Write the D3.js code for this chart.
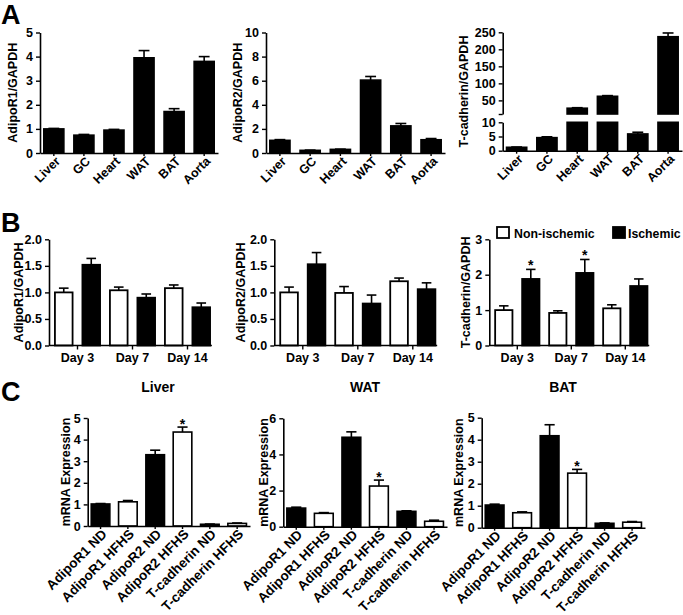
<!DOCTYPE html>
<html><head><meta charset="utf-8">
<script src="https://cdn.jsdelivr.net/npm/d3@7"></script>
<style>
body{margin:0;background:#fff;}
svg{display:block;font-family:"Liberation Sans",Arial,sans-serif;font-weight:bold;}
</style></head><body>
<svg id="c" width="683" height="615"></svg>
<script>
// ---------- Panel A: tissue distribution ----------
const tissues = ["Liver","GC","Heart","WAT","BAT","Aorta"];
const adipoR1Tissue    = [1.0, 0.74, 0.95, 3.95, 1.72, 3.8];
const adipoR1TissueErr = [0.02, 0.03, 0.03, 0.3, 0.12, 0.2];
const adipoR2Tissue    = [1.05, 0.22, 0.3, 6.05, 2.25, 1.1];
const adipoR2TissueErr = [0.06, 0.02, 0.02, 0.3, 0.2, 0.1];
const tcadTissue       = [1.2, 4.6, 27, 62, 5.9, 237];
const tcadTissueErr    = [0.1, 0.3, 1.5, 2, 0.6, 11];
const ticksA1 = [0,1,2,3,4,5];
const ticksA2 = [0,2,4,6,8,10];
const ticksA3Low = [0,5,10];
const ticksA3Up = [10,50,100,150,200,250];

// ---------- Panel B: ischemia ----------
const days = ["Day 3","Day 7","Day 14"];
const groupsB = ["Non-ischemic","Ischemic"];
const r1NonIsch = [1.0, 1.04, 1.08], r1NonIschErr = [0.08, 0.06, 0.06];
const r1Isch    = [1.52, 0.9, 0.72], r1IschErr    = [0.12, 0.07, 0.08];
const r2NonIsch = [1.0, 0.99, 1.21], r2NonIschErr = [0.1, 0.12, 0.06];
const r2Isch    = [1.53, 0.79, 1.06], r2IschErr   = [0.22, 0.16, 0.12];
const tNonIsch  = [1.0, 0.92, 1.05], tNonIschErr  = [0.12, 0.06, 0.1];
const tIsch     = [1.88, 2.05, 1.68], tIschErr    = [0.27, 0.38, 0.2];
const tIschStars = ["*","*",""];
const ticksB12 = [0,0.5,1,1.5,2];
const ticksB3 = [0,1,2,3];

// ---------- Panel C: diet ----------
const genes = ["AdipoR1 ND","AdipoR1 HFHS","AdipoR2 ND","AdipoR2 HFHS","T-cadherin ND","T-cadherin HFHS"];
const liverC    = [1.02, 1.12, 3.3, 4.35, 0.08, 0.12];
const liverCErr = [0.02, 0.06, 0.21, 0.23, 0.01, 0.02];
const watC      = [1.03, 0.74, 4.95, 2.25, 0.85, 0.3];
const watCErr   = [0.05, 0.04, 0.3, 0.33, 0.03, 0.06];
const batC      = [1.03, 0.68, 4.18, 2.48, 0.2, 0.25];
const batCErr   = [0.04, 0.04, 0.5, 0.17, 0.02, 0.03];
const starsC = ["","","","*","",""];
const ticksC13 = [0,1,2,3,4,5];
const ticksC2 = [0,2,4,6];

const svg = d3.select("#c");
const BLACK = "#000", WHITE = "#fff";

function styleAxis(g){
  g.select(".domain").attr("stroke","#000").attr("stroke-width",1.6);
  g.selectAll(".tick line").attr("stroke","#000").attr("stroke-width",1.4);
  g.selectAll(".tick text").attr("fill","#000").style("font-size","12.5px").style("font-weight","bold");
}
function yTitle(text, x, y){
  svg.append("text").attr("transform",`translate(${x},${y}) rotate(-90)`)
    .attr("text-anchor","middle").attr("dy","0.35em").style("font-size","12.5px").text(text);
}
function errBar(g, cx, yTop, yErr, w){
  g.append("line").attr("x1",cx).attr("x2",cx).attr("y1",yTop).attr("y2",yErr).attr("stroke","#000").attr("stroke-width",1.6);
  g.append("line").attr("x1",cx-w/2).attr("x2",cx+w/2).attr("y1",yErr).attr("y2",yErr).attr("stroke","#000").attr("stroke-width",1.6);
}
function rotLabels(g, x, cats, yAxisPos, size){
  g.selectAll("text.xl").data(cats).join("text").attr("class","xl")
    .attr("transform", d=>`translate(${x(d)+x.bandwidth()/2+7},${yAxisPos+9}) rotate(-45)`)
    .attr("text-anchor","end").style("font-size",size+"px").text(d=>d);
}

function simplePanel(o){
  const g = svg.append("g");
  const x = d3.scaleBand().domain(o.cats).range([o.x0,o.x1]).paddingInner(o.pi).paddingOuter(o.po);
  const y = d3.scaleLinear().domain([0,o.max]).range([o.yb,o.yt]);
  o.cats.forEach((c,i)=>{
    const v=o.vals[i], e=o.errs[i], fill=o.fills[i];
    g.append("rect").attr("x",x(c)+0.8).attr("width",x.bandwidth()-1.6)
      .attr("y",y(v)).attr("height",y(0)-y(v)).attr("fill",fill).attr("stroke","#000").attr("stroke-width",1.6);
    const cx=x(c)+x.bandwidth()/2;
    errBar(g,cx,y(v),y(v+e),x.bandwidth()*0.5);
    if(o.stars && o.stars[i]) g.append("text").attr("x",cx).attr("y",y(v+e)+2).attr("text-anchor","middle").style("font-size","14px").text(o.stars[i]);
  });
  g.append("g").attr("transform",`translate(${o.x0},0)`).call(d3.axisLeft(y).tickValues(o.ticks).tickFormat(o.fmt||d3.format("d")).tickSize(4).tickSizeOuter(0)).call(styleAxis);
  g.append("g").attr("transform",`translate(0,${o.yb})`).call(d3.axisBottom(x).tickSize(3).tickSizeOuter(0).tickFormat("")).call(styleAxis);
  rotLabels(g,x,o.cats,o.yb,o.lsize);
  if(o.title) svg.append("text").attr("x",o.tx).attr("y",o.ty).attr("text-anchor","middle").style("font-size","14px").text(o.title);
  yTitle(o.ylab,o.lx,(o.yb+o.yt)/2);
}

// Panel letters
svg.append("text").attr("x",1).attr("y",24).style("font-size","27px").text("A");
svg.append("text").attr("x",1).attr("y",232).style("font-size","27px").text("B");
svg.append("text").attr("x",1).attr("y",401).style("font-size","27px").text("C");

// ---- A1, A2
simplePanel({cats:tissues,vals:adipoR1Tissue,errs:adipoR1TissueErr,fills:tissues.map(()=>BLACK),
  x0:40,x1:218,pi:0.28,po:0.1,yb:153,yt:32.5,max:5,ticks:ticksA1,ylab:"AdipoR1/GAPDH",lx:13,lsize:12.5});
simplePanel({cats:tissues,vals:adipoR2Tissue,errs:adipoR2TissueErr,fills:tissues.map(()=>BLACK),
  x0:266,x1:445,pi:0.28,po:0.1,yb:153,yt:32.5,max:10,ticks:ticksA2,ylab:"AdipoR2/GAPDH",lx:238,lsize:12.5});

// ---- A3 broken axis
(function(){
  const g = svg.append("g");
  const x0=502.7, x1=682;
  const x = d3.scaleBand().domain(tissues).range([x0,x1]).paddingInner(0.28).paddingOuter(0.1);
  const yLow = d3.scaleLinear().domain([0,10]).range([150.7,122.3]);
  const yUp = d3.scaleLinear().domain([10,250]).range([114,32.3]);
  tissues.forEach((c,i)=>{
    const v=tcadTissue[i], e=tcadTissueErr[i];
    const xx=x(c)+0.8, w=x.bandwidth()-1.6, cx=x(c)+x.bandwidth()/2;
    const lv=Math.min(v,10);
    g.append("rect").attr("x",xx).attr("width",w).attr("y",yLow(lv)).attr("height",yLow(0)-yLow(lv)).attr("fill","#000").attr("stroke","#000").attr("stroke-width",1.6);
    if(v>10){
      g.append("rect").attr("x",xx).attr("width",w).attr("y",yUp(v)).attr("height",yUp(10)-yUp(v)).attr("fill","#000").attr("stroke","#000").attr("stroke-width",1.6);
      errBar(g,cx,yUp(v),yUp(v+e),x.bandwidth()*0.5);
    } else {
      errBar(g,cx,yLow(v),yLow(v+e),x.bandwidth()*0.5);
    }
  });
  g.append("g").attr("transform",`translate(${x0},0)`).call(d3.axisLeft(yLow).tickValues(ticksA3Low).tickFormat(d3.format("d")).tickSize(4).tickSizeOuter(0)).call(styleAxis);
  g.append("g").attr("transform",`translate(${x0},0)`).call(d3.axisLeft(yUp).tickValues(ticksA3Up).tickFormat(d=>d===10?"":d).tickSize(4).tickSizeOuter(0)).call(styleAxis);
  g.append("g").attr("transform",`translate(0,${yLow(0)})`).call(d3.axisBottom(x).tickSize(3).tickSizeOuter(0).tickFormat("")).call(styleAxis);
  rotLabels(g,x,tissues,yLow(0),12.5);
  yTitle("T-cadherin/GAPDH",464,(yUp(250)+yLow(0))/2);
})();

// ---- B grouped panels
function groupedPanel(o){
  const g = svg.append("g");
  const xg = d3.scaleBand().domain(days).range([o.x0+1,o.x0+1+o.step*3]).padding(0);
  const xs = d3.scaleBand().domain(groupsB).range([0,xg.bandwidth()]).paddingInner(0.3).paddingOuter(0.15);
  const y = d3.scaleLinear().domain([0,o.max]).range([o.yb,o.yt]);
  const series=[[o.non,o.nonErr,WHITE,null],[o.isch,o.ischErr,BLACK,o.stars]];
  series.forEach((s,si)=>{
    days.forEach((d,i)=>{
      const v=s[0][i], e=s[1][i];
      const xx=xg(d)+xs(groupsB[si]), cx=xx+xs.bandwidth()/2;
      g.append("rect").attr("x",xx+0.8).attr("width",xs.bandwidth()-1.6).attr("y",y(v)).attr("height",y(0)-y(v))
        .attr("fill",s[2]).attr("stroke","#000").attr("stroke-width",1.8);
      errBar(g,cx,y(v),y(v+e),xs.bandwidth()*0.5);
      if(s[3] && s[3][i]) g.append("text").attr("x",cx).attr("y",y(v+e)+1).attr("text-anchor","middle").style("font-size","14px").text(s[3][i]);
    });
  });
  g.append("g").attr("transform",`translate(${o.x0},0)`).call(d3.axisLeft(y).tickValues(o.ticks).tickFormat(o.fmt).tickSize(4).tickSizeOuter(0)).call(styleAxis);
  const xEnd = xg(days[2])+xs(groupsB[1])+xs.bandwidth()+1;
  g.append("line").attr("x1",o.x0).attr("x2",xEnd).attr("y1",o.yb).attr("y2",o.yb).attr("stroke","#000").attr("stroke-width",1.6);
  days.forEach(d=>{
    const cx=xg(d)+xg.bandwidth()/2;
    g.append("line").attr("x1",cx).attr("x2",cx).attr("y1",o.yb).attr("y2",o.yb+4).attr("stroke","#000").attr("stroke-width",1.4);
    g.append("text").attr("x",cx).attr("y",o.yb+16).attr("text-anchor","middle").style("font-size","12.5px").text(d);
  });
  yTitle(o.ylab,o.lx,(o.yb+o.yt)/2);
}
groupedPanel({x0:49,step:55,yb:345.5,yt:239.3,max:2,ticks:ticksB12,fmt:d3.format(".1f"),
  non:r1NonIsch,nonErr:r1NonIschErr,isch:r1Isch,ischErr:r1IschErr,ylab:"AdipoR1/GAPDH",lx:19});
groupedPanel({x0:274.3,step:55,yb:345.5,yt:239.3,max:2,ticks:ticksB12,fmt:d3.format(".1f"),
  non:r2NonIsch,nonErr:r2NonIschErr,isch:r2Isch,ischErr:r2IschErr,ylab:"AdipoR2/GAPDH",lx:241});
groupedPanel({x0:489.3,step:54,yb:345.5,yt:239.3,max:3,ticks:ticksB3,fmt:d3.format("d"),
  non:tNonIsch,nonErr:tNonIschErr,isch:tIsch,ischErr:tIschErr,stars:tIschStars,ylab:"T-cadherin/GAPDH",lx:466});

// legend B3
const leg = svg.append("g");
[[groupsB[0],WHITE,497,514],[groupsB[1],BLACK,613,628]].forEach(l=>{
  leg.append("rect").attr("x",l[2]).attr("y",227).attr("width",12).attr("height",11).attr("fill",l[1]).attr("stroke","#000").attr("stroke-width",1.8);
  leg.append("text").attr("x",l[3]).attr("y",237.5).style("font-size","12.3px").text(l[0]);
});

// ---- C panels
const fillsC = genes.map(g=>g.endsWith("HFHS")?WHITE:BLACK);
simplePanel({cats:genes,vals:liverC,errs:liverCErr,fills:fillsC,stars:starsC,
  x0:87.7,x1:250,pi:0.26,po:0.1,yb:526,yt:418,max:5,ticks:ticksC13,ylab:"mRNA Expression",lx:65.5,lsize:13.5,
  title:"Liver",tx:158,ty:392});
simplePanel({cats:genes,vals:watC,errs:watCErr,fills:fillsC,stars:starsC,
  x0:283.3,x1:447,pi:0.26,po:0.1,yb:526.7,yt:418.3,max:6,ticks:ticksC2,ylab:"mRNA Expression",lx:264,lsize:13.5,
  title:"WAT",tx:365,ty:392});
simplePanel({cats:genes,vals:batC,errs:batCErr,fills:fillsC,stars:starsC,
  x0:481.7,x1:645,pi:0.26,po:0.1,yb:527.7,yt:417.7,max:5,ticks:ticksC13,ylab:"mRNA Expression",lx:459,lsize:13.5,
  title:"BAT",tx:563,ty:392});
</script>
</body></html>
